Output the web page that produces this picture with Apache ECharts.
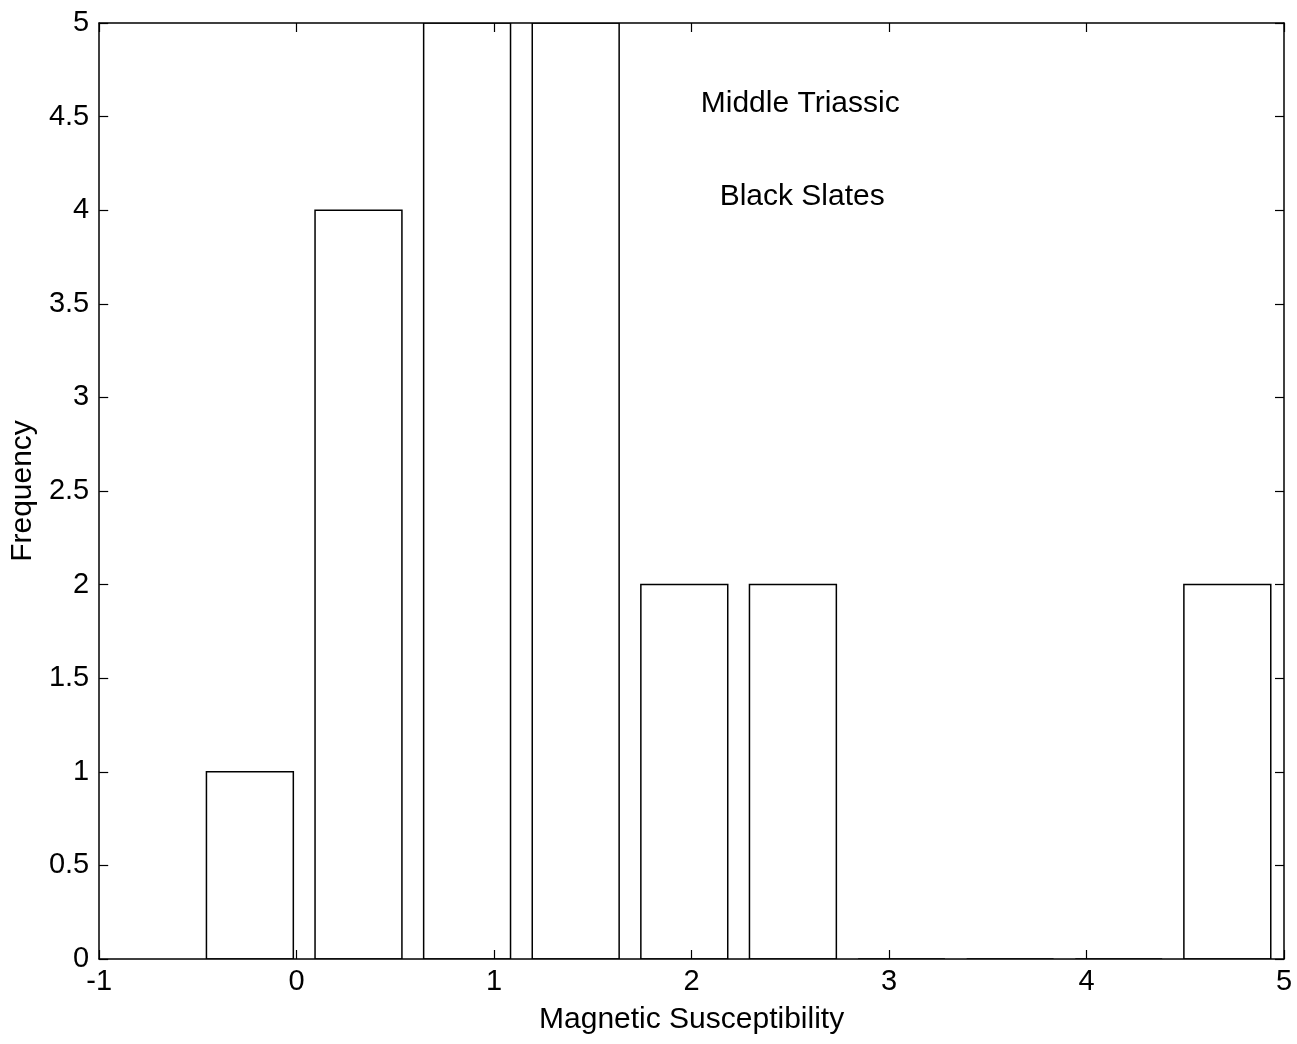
<!DOCTYPE html>
<html>
<head>
<meta charset="utf-8">
<script src="https://cdn.jsdelivr.net/npm/echarts@6/dist/echarts.min.js"></script>
<style>
    html, body { margin: 0; padding: 0; background: #fff; }
    #chart { width: 1297px; height: 1044px; }
</style>
</head>
<body>
<div id="chart"></div>
<script>
// histogram bins (centres) and counts
var binCenters = [-0.237, 0.313, 0.863, 1.413, 1.963, 2.513, 3.063, 3.613, 4.163, 4.713];
var counts = [1, 4, 6, 6, 2, 2, 0, 0, 0, 2]; // bins 3 and 4 run past the top of the axis
var binWidth = 0.44;
var xTicks = [-1, 0, 1, 2, 3, 4, 5];
var yTicks = [0, 0.5, 1, 1.5, 2, 2.5, 3, 3.5, 4, 4.5, 5];
var noteTexts = ["Middle Triassic", "Black Slates"];
var noteX = [2.55, 2.56];
var noteY = [4.57, 4.07];

var sFont_vob = "'Liberation Sans', Arial, sans-serif";
var aData_vob = binCenters.map(function (c, i) { return [c, counts[i]]; });
var aNotes_vob = noteTexts.map(function (t, i) { return [noteX[i], noteY[i], t]; });

var myChart = echarts.init(document.getElementById("chart"), null, { renderer: "canvas" });

var axisCommon = function (extra) {
    return Object.assign({
        axisLine: { show: true, onZero: false, lineStyle: { color: "#000", width: 1.5 } },
        axisTick: { show: true, inside: true, length: 9, lineStyle: { color: "#000", width: 1.2 } },
        splitLine: { show: false }
    }, extra);
};

var option = {
    backgroundColor: "#fff",
    animation: false,
    grid: { left: 99, right: 13, top: 23, bottom: 85, containLabel: false },
    xAxis: [
        axisCommon({
            type: "value", position: "bottom", min: xTicks[0], max: xTicks[xTicks.length - 1], interval: 1,
            name: "Magnetic Susceptibility", nameLocation: "middle", nameGap: 46,
            nameTextStyle: { fontFamily: sFont_vob, fontSize: 30, color: "#000" },
            axisLabel: { fontFamily: sFont_vob, fontSize: 29, color: "#000", margin: 8 }
        }),
        axisCommon({
            type: "value", position: "top", min: xTicks[0], max: xTicks[xTicks.length - 1], interval: 1,
            axisLabel: { show: false }
        })
    ],
    yAxis: [
        axisCommon({
            type: "value", position: "left", min: yTicks[0], max: yTicks[yTicks.length - 1], interval: 0.5,
            name: "Frequency", nameLocation: "middle", nameGap: 58,
            nameTextStyle: { fontFamily: sFont_vob, fontSize: 30, color: "#000" },
            axisLabel: { fontFamily: sFont_vob, fontSize: 29, color: "#000", margin: 10 }
        }),
        axisCommon({
            type: "value", position: "right", min: yTicks[0], max: yTicks[yTicks.length - 1], interval: 0.5,
            axisLabel: { show: false }
        })
    ],
    series: [{
        type: "custom",
        clip: true,
        data: aData_vob,
        renderItem: function (params, api) {
            var x = api.value(0), v = api.value(1);
            var p0 = api.coord([x - binWidth / 2, 0]);
            var p1 = api.coord([x + binWidth / 2, v]);
            var shape = echarts.graphic.clipRectByRect({
                x: p0[0], y: p1[1], width: p1[0] - p0[0], height: p0[1] - p1[1]
            }, {
                x: params.coordSys.x, y: params.coordSys.y,
                width: params.coordSys.width, height: params.coordSys.height
            });
            if (!shape) return;
            return {
                type: "rect",
                shape: shape,
                style: { fill: "none", stroke: "#000", lineWidth: 1.5 }
            };
        },
        z: 1
    }, {
        type: "custom",
        data: aNotes_vob,
        renderItem: function (params, api) { // annotation texts
            var p = api.coord([api.value(0), api.value(1)]);
            return {
                type: "text",
                x: p[0], y: p[1],
                style: {
                    text: aNotes_vob[params.dataIndex][2],
                    fill: "#000",
                    font: "30px " + sFont_vob,
                    align: "center",
                    verticalAlign: "middle"
                }
            };
        },
        silent: true,
        z: 2
    }]
};
myChart.setOption(option);
</script>
</body>
</html>
